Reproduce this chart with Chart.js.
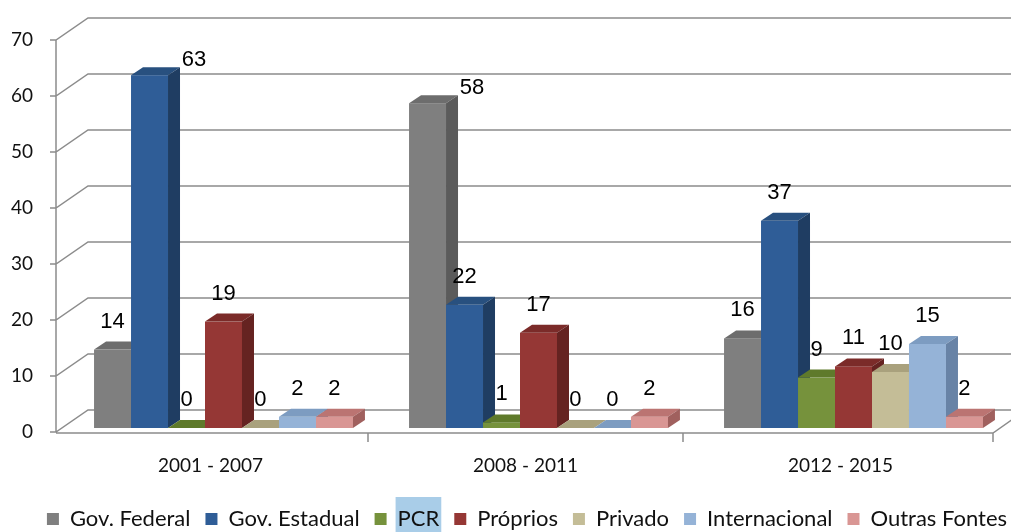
<!DOCTYPE html>
<html>
<head>
<meta charset="utf-8">
<title>Fontes de financiamento</title>
<script src="https://cdn.jsdelivr.net/npm/chart.js"></script>
<style>
    html, body { margin: 0; padding: 0; background: #fff; }
    #wrap { width: 1011px; height: 532px; }
</style>
</head>
<body>
<div id="wrap"><canvas id="chart"></canvas></div>
<script>
var periods = ['2001 - 2007', '2008 - 2011', '2012 - 2015'];
var sources = ['Gov. Federal', 'Gov. Estadual', 'PCR', 'Próprios', 'Privado', 'Internacional', 'Outras Fontes'];
var govFederal    = [14, 58, 16];
var govEstadual   = [63, 22, 37];
var pcr           = [0, 1, 9];
var proprios      = [19, 17, 11];
var privado       = [0, 0, 10];
var internacional = [2, 0, 15];
var outrasFontes  = [2, 2, 2];
var yTicks = [0, 10, 20, 30, 40, 50, 60, 70];

// front / top / side shades for each source
var shades = [
    ['#7f7f7f', '#6d6d6d', '#5b5b5b'],
    ['#2f5d97', '#28507f', '#1f3d62'],
    ['#76923c', '#5f7a2b', '#4d6322'],
    ['#953735', '#7b2b29', '#652321'],
    ['#c4bd97', '#a9a17d', '#938b68'],
    ['#95b3d7', '#7d9cc1', '#6883a6'],
    ['#d99694', '#bb7472', '#a0605e']
];

var seriesValues = [govFederal, govEstadual, pcr, proprios, privado, internacional, outrasFontes];

// 3d look
var WALL_X = 32, WALL_Y = -22;   // back wall offset
var DEPTH_X = 12, DEPTH_Y = -8;  // bar depth
var SHIFT_X = 13, SHIFT_Y = -4;  // bars sit a bit behind the front plane
var LEGEND_SHIFT = 28;           // legend row sits right of centre in the original

var bars3d = {
    id: 'bars3d',
    afterLayout: function(chart) {
        if (chart.legend) {
            chart.legend.left += LEGEND_SHIFT;
            chart.legend.right += LEGEND_SHIFT;
        }
    },
    beforeDraw: function(chart) {
        // the light blue highlight behind "PCR" in the legend
        var lg = chart.legend;
        if (!lg || !lg.legendHitBoxes || !lg.legendHitBoxes[2]) return;
        var hb = lg.legendHitBoxes[2];
        var ctx = chart.ctx;
        ctx.save();
        ctx.fillStyle = '#a9cde8';
        ctx.fillRect(hb.left + 21, 497, hb.width - 19, 40);
        ctx.restore();
    },
    beforeDatasetsDraw: function(chart) {
        var ctx = chart.ctx, area = chart.chartArea;
        var ys = chart.scales.y, xs = chart.scales.x;
        var ax = area.left + 3;
        var y0 = ys.getPixelForValue(0);
        var endX = xs.getPixelForValue(periods.length - 0.5) - 5;
        ctx.save();
        ctx.strokeStyle = '#8c8c8c';
        ctx.lineWidth = 1.5;
        ctx.beginPath();
        yTicks.forEach(function(v) {
            var py = ys.getPixelForValue(v);
            ctx.moveTo(ax - 6, py);
            ctx.lineTo(ax, py);
            ctx.lineTo(ax + WALL_X, py + WALL_Y);
            ctx.lineTo(chart.width, py + WALL_Y);
        });
        ctx.moveTo(ax, ys.getPixelForValue(yTicks[yTicks.length - 1]));
        ctx.lineTo(ax, y0);
        // floor front edge
        ctx.moveTo(ax, y0 + 1);
        ctx.lineTo(endX, y0 + 1);
        ctx.lineTo(endX + 20, y0 + 1 - 14);
        // category separators
        for (var i = 1; i <= periods.length; i++) {
            var px = xs.getPixelForValue(i - 0.5);
            if (i === periods.length) px = endX;
            ctx.moveTo(px, y0 + 1);
            ctx.lineTo(px, y0 + 10);
        }
        ctx.stroke();
        ctx.restore();
    },
    beforeDatasetDraw: function() {
        return false; // bars are painted below, in depth order
    },
    afterDatasetsDraw: function(chart) {
        var ctx = chart.ctx;
        var n = chart.data.datasets.length;
        ctx.save();
        var labels = [];
        for (var i = 0; i < periods.length; i++) {
            for (var d = 0; d < n; d++) {
                var el = chart.getDatasetMeta(d).data[i];
                var c = shades[d];
                var l = el.x - el.width / 2 + SHIFT_X, r = l + el.width;
                var t = el.y + SHIFT_Y, b = el.base + SHIFT_Y;
                ctx.fillStyle = c[0];
                ctx.fillRect(l, t, r - l, b - t);
                ctx.fillStyle = c[1];
                ctx.beginPath();
                ctx.moveTo(l, t); ctx.lineTo(r, t);
                ctx.lineTo(r + DEPTH_X, t + DEPTH_Y); ctx.lineTo(l + DEPTH_X, t + DEPTH_Y);
                ctx.closePath(); ctx.fill();
                ctx.fillStyle = c[2];
                ctx.beginPath();
                ctx.moveTo(r, t); ctx.lineTo(r + DEPTH_X, t + DEPTH_Y);
                ctx.lineTo(r + DEPTH_X, b + DEPTH_Y); ctx.lineTo(r, b);
                ctx.closePath(); ctx.fill();

                var v = chart.data.datasets[d].data[i];
                if (v > 50) {
                    labels.push([String(v), r + 26, t - 15]);
                } else {
                    labels.push([String(v), (l + r) / 2, t - 28]);
                }
            }
        }
        ctx.fillStyle = '#000';
        ctx.font = '22px "Liberation Sans", Arial, sans-serif';
        ctx.textAlign = 'center';
        ctx.textBaseline = 'middle';
        labels.forEach(function(lb) { ctx.fillText(lb[0], lb[1], lb[2]); });
        ctx.restore();
    }
};

var datasets = sources.map(function(name, k) {
    return {
        label: name,
        data: seriesValues[k],
        backgroundColor: shades[k][0],
        borderWidth: 0
    };
});

new Chart(document.getElementById('chart'), {
    type: 'bar',
    data: { labels: periods, datasets: datasets },
    plugins: [bars3d],
    options: {
        responsive: true,
        maintainAspectRatio: false,
        animation: false,
        events: [],
        layout: { padding: { top: 40, right: 13, left: 0, bottom: -8 } },
        datasets: { bar: { categoryPercentage: 0.822, barPercentage: 1 } },
        plugins: {
            tooltip: { enabled: false },
            legend: {
                position: 'bottom',
                labels: {
                    boxWidth: 12,
                    boxHeight: 12,
                    padding: 15,
                    color: '#111',
                    font: { family: 'Lato', size: 22 }
                }
            }
        },
        scales: {
            x: {
                grid: { display: false, drawTicks: false },
                border: { display: false },
                ticks: { color: '#111', padding: 22, font: { family: 'Lato', size: 19 } },
                afterFit: function(scale) { scale.height = 61; }
            },
            y: {
                min: 0,
                max: 70,
                grid: { display: false, drawTicks: false },
                border: { display: false },
                ticks: { stepSize: 10, color: '#111', padding: 20, font: { family: 'Lato', size: 19 } },
                afterFit: function(scale) { scale.width = 53; }
            }
        }
    }
});
</script>
</body>
</html>
